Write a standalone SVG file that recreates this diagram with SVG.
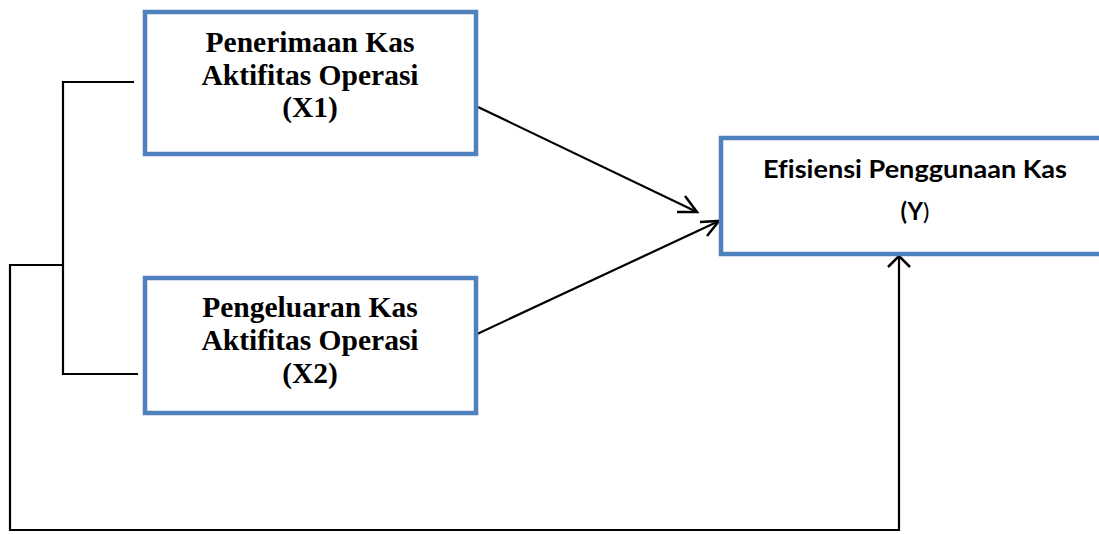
<svg xmlns="http://www.w3.org/2000/svg" width="1099" height="534" viewBox="0 0 1099 534">
<style>
.box{fill:#fff;stroke:#4F81BD;stroke-width:4.5}
.tnr{font-family:"Liberation Serif","Times New Roman",serif;font-weight:bold;font-size:29.5px;fill:#000;text-anchor:middle}
.cal{font-family:Lato,"Open Sans","Liberation Sans",sans-serif;font-weight:bold;font-size:24px;fill:#000;text-anchor:middle;font-variant-ligatures:none}
.ln{fill:none;stroke:#000;stroke-width:2.2}
.ah{fill:none;stroke:#000;stroke-width:2.5}
</style>
<rect width="1099" height="534" fill="#fff"/>
<g id="connectors">
<polyline class="ln" points="134,82 63,82 63,374 138,374"/>
<polyline class="ln" points="63,265 10,265 10,530 899,530 899,256"/>
<polyline class="ah" points="888,267 899,256 910,267"/>
<line class="ln" x1="478" y1="107" x2="697" y2="212"/>
<polyline class="ah" points="685,196 697,212 677,212"/>
<line class="ln" x1="475" y1="335" x2="719" y2="221"/>
<polyline class="ah" points="700,222 719,221 707,236"/>
</g>
<g id="x1">
<rect class="box" x="145" y="12" width="331" height="142"/>
<text class="tnr" x="310" y="52">Penerimaan Kas</text>
<text class="tnr" x="310" y="85">Aktifitas Operasi</text>
<text class="tnr" x="310" y="117">(X1)</text>
</g>
<g id="x2">
<rect class="box" x="145" y="278" width="331" height="135"/>
<text class="tnr" x="310" y="317">Pengeluaran Kas</text>
<text class="tnr" x="310" y="350">Aktifitas Operasi</text>
<text class="tnr" x="310" y="383">(X2)</text>
</g>
<g id="y">
<rect class="box" x="721" y="138" width="390" height="116"/>
<text class="cal" x="915" y="178" textLength="304" lengthAdjust="spacingAndGlyphs">Efisiensi Penggunaan Kas</text>
<text class="cal" x="915" y="220">(Y<tspan font-weight="normal">)</tspan></text>
</g>
</svg>
